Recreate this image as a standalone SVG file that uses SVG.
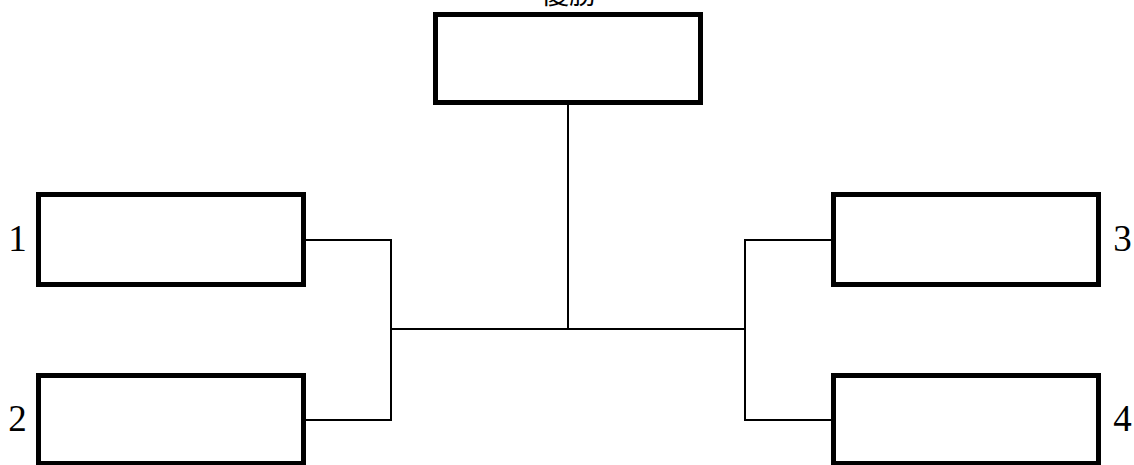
<svg xmlns="http://www.w3.org/2000/svg" width="1134" height="465" viewBox="0 0 1134 465">
<style>
.box{fill:#fff;stroke:#000;stroke-width:5}
.conn{fill:none;stroke:#000;stroke-width:2}
.num{font-family:"Liberation Serif",serif;font-size:37px;fill:#000;text-anchor:middle}
.title{font-family:"Noto Sans CJK JP",sans-serif;font-size:28px;fill:#000;text-anchor:middle}
</style>
<rect width="1134" height="465" fill="#fff"/>
<g id="connectors">
<polyline class="conn" points="306,240 391,240 391,420 306,420"/>
<polyline class="conn" points="831,240 745,240 745,420 831,420"/>
<line class="conn" x1="391" y1="329" x2="745" y2="329"/>
<line class="conn" x1="568" y1="105" x2="568" y2="329"/>
</g>
<g id="winner">
<rect class="box" x="435.5" y="14.5" width="265" height="88"/>
<text class="title" x="569" y="3.5">優勝</text>
</g>
<g id="node1">
<rect class="box" x="38.5" y="194.5" width="265" height="90"/>
<text class="num" x="17.5" y="251">1</text>
</g>
<g id="node2">
<rect class="box" x="38.5" y="375.5" width="265" height="88"/>
<text class="num" x="17.5" y="431">2</text>
</g>
<g id="node3">
<rect class="box" x="833.5" y="194.5" width="265" height="90"/>
<text class="num" x="1122.5" y="251">3</text>
</g>
<g id="node4">
<rect class="box" x="833.5" y="375.5" width="265" height="88"/>
<text class="num" x="1122.5" y="431">4</text>
</g>
</svg>
